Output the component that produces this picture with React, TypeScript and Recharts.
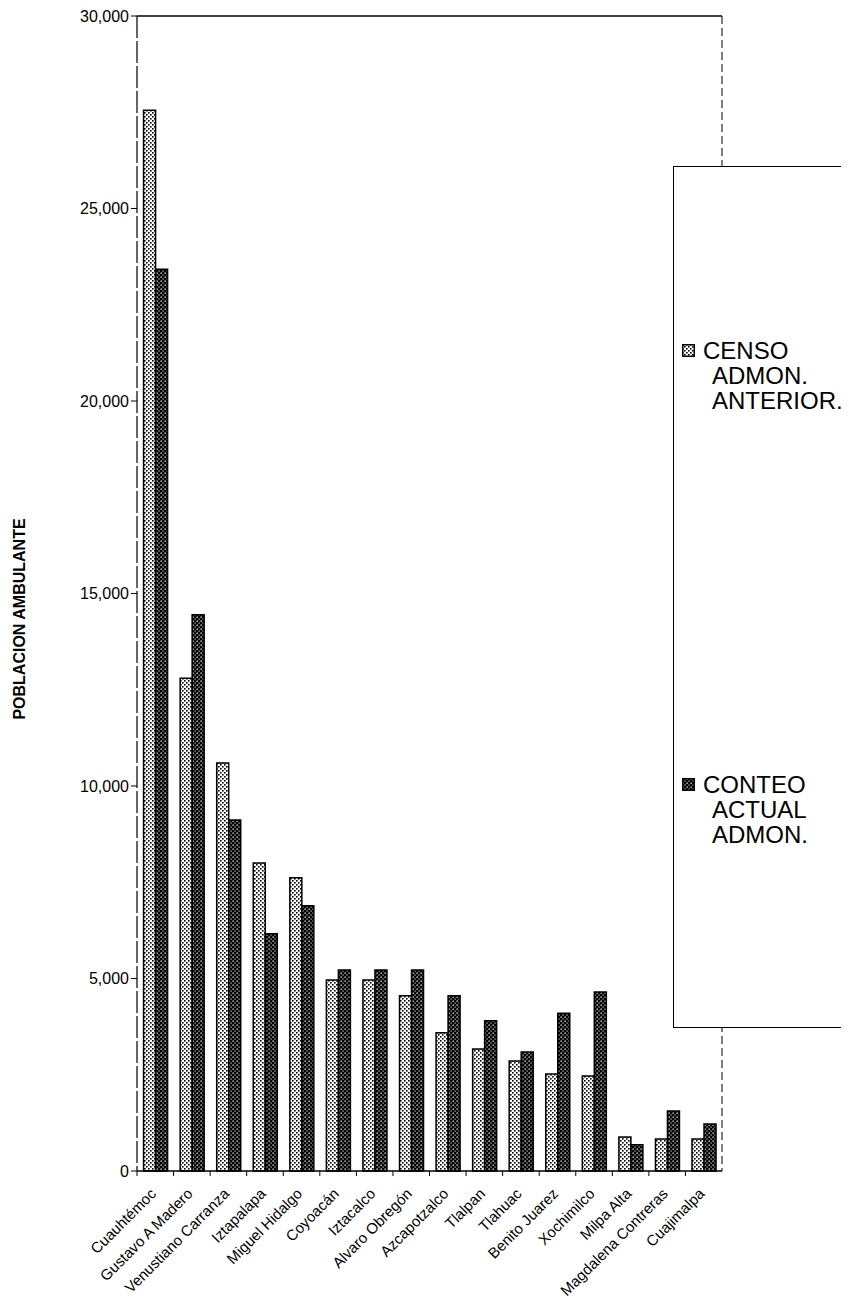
import React from 'react';
import { BarChart, Bar, XAxis, YAxis, Legend, Label } from 'recharts';

const delegaciones = [
  'Cuauhtémoc',
  'Gustavo A Madero',
  'Venustiano Carranza',
  'Iztapalapa',
  'Miguel Hidalgo',
  'Coyoacán',
  'Iztacalco',
  'Alvaro Obregón',
  'Azcapotzalco',
  'Tlalpan',
  'Tlahuac',
  'Benito Juarez',
  'Xochimilco',
  'Milpa Alta',
  'Magdalena Contreras',
  'Cuajimalpa',
];

const censoAnterior = [27550, 12800, 10600, 8000, 7620, 4960, 4960, 4550, 3590, 3170, 2860, 2520, 2470, 880, 830, 830];
const conteoActual = [23420, 14450, 9120, 6160, 6890, 5220, 5220, 5220, 4550, 3900, 3090, 4100, 4650, 680, 1560, 1220];

const yTicks = [0, 5000, 10000, 15000, 20000, 25000, 30000];

const censoLines = ['CENSO', 'ADMON.', 'ANTERIOR.'];
const conteoLines = ['CONTEO', 'ACTUAL', 'ADMON.'];

const data = delegaciones.map((name, i) => ({
  name,
  censo: censoAnterior[i],
  conteo: conteoActual[i],
}));

const FONT = '"Liberation Sans", Arial, sans-serif';

const CategoryTick = (props: any) => {
  const { x, y, payload } = props;
  const half = payload?.offset ?? 18;
  return (
    <g>
      <line x1={x - half} x2={x - half} y1={y - 8} y2={y - 3} stroke="#000" strokeWidth={1} />
      <text
        transform={`translate(${x - 2},${y + 12}) rotate(-45)`}
        textAnchor="end"
        dy="0.35em"
        fontSize={15}
        fontFamily={FONT}
        fill="#000"
      >
        {payload.value}
      </text>
    </g>
  );
};

const LegendBox = () => {
  const entries = [
    { lines: censoLines, fill: 'url(#censoPattern)', shift: -7 },
    { lines: conteoLines, fill: 'url(#conteoPattern)', shift: -3 },
  ];
  return (
    <div
      style={{
        width: 175,
        height: 862,
        border: '1.5px solid #000',
        borderRightStyle: 'dashed',
        background: '#fff',
        display: 'flex',
        flexDirection: 'column',
        boxSizing: 'border-box',
        fontFamily: FONT,
        fontSize: 24,
        color: '#000',
      }}
    >
      {entries.map((e) => (
        <div
          key={e.lines[0]}
          style={{
            flex: 1,
            display: 'flex',
            flexDirection: 'column',
            justifyContent: 'center',
            lineHeight: '25px',
            transform: `translateY(${e.shift}px)`,
          }}
        >
          <div style={{ display: 'flex', alignItems: 'center', paddingLeft: 8 }}>
            <svg width={13} height={13} style={{ marginRight: 8 }}>
              <rect x={0.75} y={0.75} width={11.5} height={11.5} fill={e.fill} stroke="#000" strokeWidth={1.5} />
            </svg>
            <span>{e.lines[0]}</span>
          </div>
          {e.lines.slice(1).map((l) => (
            <div key={l} style={{ paddingLeft: 38 }}>
              {l}
            </div>
          ))}
        </div>
      ))}
    </div>
  );
};

export default function App() {
  return (
    <div style={{ position: 'relative', width: 849, height: 1312, marginLeft: -8, marginTop: -8, background: '#fff' }}>
      <BarChart
        width={849}
        height={1312}
        data={data}
        margin={{ top: 15, right: 126, bottom: 0, left: 0 }}
        barCategoryGap="18%"
        barGap={0}
      >
        <defs>
          <pattern id="censoPattern" width={4} height={4} patternUnits="userSpaceOnUse">
            <rect width={4} height={4} fill="#fff" />
            <rect x={0} y={0} width={1.6} height={1.6} fill="#000" />
            <rect x={2} y={2} width={1.6} height={1.6} fill="#000" />
          </pattern>
          <pattern id="conteoPattern" width={4} height={4} patternUnits="userSpaceOnUse">
            <rect width={4} height={4} fill="#000" />
            <rect x={0.5} y={0.5} width={1.3} height={1.3} fill="#fff" />
            <rect x={2.5} y={2.5} width={1.1} height={1.1} fill="#fff" />
          </pattern>
        </defs>
        <XAxis
          xAxisId="bottom"
          dataKey="name"
          interval={0}
          axisLine={{ stroke: '#000', strokeWidth: 1.5 }}
          tickLine={false}
          tick={<CategoryTick />}
          height={141}
        />
        <XAxis
          xAxisId="top"
          orientation="top"
          dataKey="name"
          tick={false}
          tickLine={false}
          axisLine={{ stroke: '#000', strokeWidth: 1.5 }}
          height={1}
        />
        <YAxis
          yAxisId="left"
          domain={[0, 30000]}
          ticks={yTicks}
          interval={0}
          width={137}
          tickSize={6}
          tickLine={{ stroke: '#000' }}
          axisLine={{ stroke: '#000', strokeWidth: 1.2, strokeDasharray: '22 3' }}
          tickFormatter={(v: number) => v.toLocaleString('en-US')}
          tick={{ fill: '#000', fontSize: 16, fontFamily: FONT }}
        >
          <Label
            content={() => (
              <text
                x={19}
                y={619}
                transform="rotate(-90 19 619)"
                textAnchor="middle"
                dominantBaseline="central"
                fontWeight="bold"
                fontSize={16}
                fontFamily={FONT}
                fill="#000"
              >
                POBLACION AMBULANTE
              </text>
            )}
          />
        </YAxis>
        <YAxis
          yAxisId="right"
          orientation="right"
          domain={[0, 30000]}
          tick={false}
          tickLine={false}
          axisLine={{ stroke: '#000', strokeWidth: 1, strokeDasharray: '8 4' }}
          width={1}
        />
        <Legend
          layout="horizontal"
          verticalAlign="middle"
          align="center"
          content={() => <LegendBox />}
          wrapperStyle={{ position: 'absolute', left: 673, top: 166, width: 175, height: 862 }}
        />
        <Bar
          dataKey="censo"
          name="CENSO ADMON. ANTERIOR."
          xAxisId="bottom"
          yAxisId="left"
          fill="url(#censoPattern)"
          stroke="#000"
          strokeWidth={1.5}
          isAnimationActive={false}
        />
        <Bar
          dataKey="conteo"
          name="CONTEO ACTUAL ADMON."
          xAxisId="bottom"
          yAxisId="left"
          fill="url(#conteoPattern)"
          stroke="#000"
          strokeWidth={1.5}
          isAnimationActive={false}
        />
      </BarChart>
    </div>
  );
}
